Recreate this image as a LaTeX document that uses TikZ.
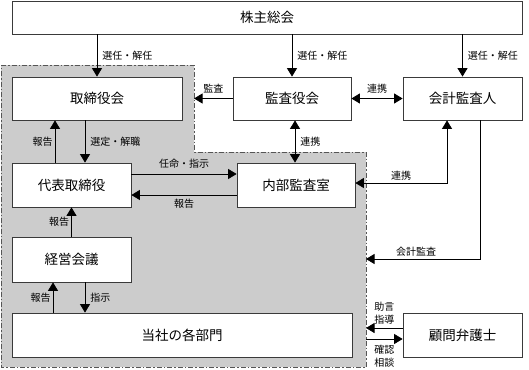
\documentclass[tikz,border=0pt]{standalone}
\usepackage{fontspec}
\setmainfont{Noto Sans CJK JP}
\usetikzlibrary{arrows.meta,positioning}
\definecolor{orgLine}{HTML}{3A3A3A}
\definecolor{orgRegion}{HTML}{CCCCCC}
\definecolor{orgEdge}{HTML}{555555}

\begin{document}
\begin{tikzpicture}[x=1pt,y=-1pt,>={Triangle[width=10pt,length=8.5pt]},
  box/.style={draw=orgLine,fill=white,line width=.8pt,inner sep=0pt,font=\fontsize{13.5}{16}\selectfont},
  lbl/.style={font=\fontsize{10}{13}\selectfont,inner sep=2pt,align=center},
  link/.style={->,line width=.8pt}]
\useasboundingbox (0,0) rectangle (529,369);
% shaded area of the company
\draw[draw=orgEdge,fill=orgRegion,line width=.8pt,dash pattern=on 5pt off 2pt on 1.5pt off 2pt]
  (1,65) -- (194,65) -- (194,152) -- (366,152) -- (366,367) -- (1,367) -- cycle;
\coordinate (kansaIn) at (194,98.5);
\coordinate (kaikeiIn) at (366,259);
\coordinate (jogenIn) at (366,328);
\coordinate (soudanOut) at (366,339);
% boxes
\foreach \name/\x/\y/\w/\h/\txt in {soukai/267/17.5/510/33/株主総会,
    torishimari/97/98.5/170/43/取締役会,kansayaku/292/98.5/118/43/監査役会,
    kaikei/462.5/98.5/119/43/会計監査人,daihyo/71.5/185/119/44/代表取締役,
    naibu/296/185/118/44/内部監査室,keiei/71.5/259.5/119/45/経営会議,
    kakubu/182/335/340/44/当社の各部門,komon/462.5/335/119/44/顧問弁護士}{
  \node[box,minimum width=\w pt,minimum height=\h pt] (\name) at (\x,\y) {\txt};
}
% connectors
\draw[link] (soukai.south -| torishimari.north) -- node[lbl,right=3pt]{選任・解任} (torishimari.north);
\draw[link] (soukai.south -| kansayaku.north) -- node[lbl,right=3pt]{選任・解任} (kansayaku.north);
\draw[link] (soukai.south -| kaikei.north) -- node[lbl,right=3pt]{選任・解任} (kaikei.north);
\draw[link] (kansayaku.west) -- node[lbl,above=3pt]{監査} (kansaIn);
\draw[link,<->] (kansayaku.east) -- node[lbl,above=3pt]{連携} (kaikei.west);
\draw[link] ([xshift=-16.5pt]daihyo.north) -- node[lbl,left]{報告} ([xshift=-42pt]torishimari.south);
\draw[link] ([xshift=-12pt]torishimari.south) -- node[lbl,right=3pt]{選定・解職} ([xshift=13.5pt]daihyo.north);
\draw[link,<->] ([xshift=3pt]kansayaku.south) -- node[lbl,right=3pt]{連携} ([xshift=-1pt]naibu.north);
\draw[link] ([yshift=11pt]daihyo.east) -- node[lbl,above=3pt]{任命・指示} ([yshift=11pt]naibu.west);
\draw[link] ([yshift=-10pt]naibu.west) -- node[lbl,below=2pt]{報告} ([yshift=-10pt]daihyo.east);
\draw[link,<->] ([yshift=2pt]naibu.east) -| node[lbl,above,pos=.25]{連携} ([xshift=-15.5pt]kaikei.south);
\draw[link] ([xshift=17.5pt]kaikei.south) |- node[lbl,above,pos=.78]{会計監査} (kaikeiIn);
\draw[link] (keiei.north) -- node[lbl,left]{報告} (daihyo.south);
\draw[link] ([xshift=-129pt]kakubu.north) -- node[lbl,left]{報告} ([xshift=-18.5pt]keiei.south);
\draw[link] ([xshift=13.5pt]keiei.south) -- node[lbl,right=3pt]{指示} ([xshift=-97pt]kakubu.north);
\draw[link] (komon.west |- jogenIn) -- node[lbl,above=1pt]{助言\\指導} (jogenIn);
\draw[link] (soudanOut) -- node[lbl,below=4pt]{確認\\相談} (komon.west |- soudanOut);
\end{tikzpicture}
\end{document}
